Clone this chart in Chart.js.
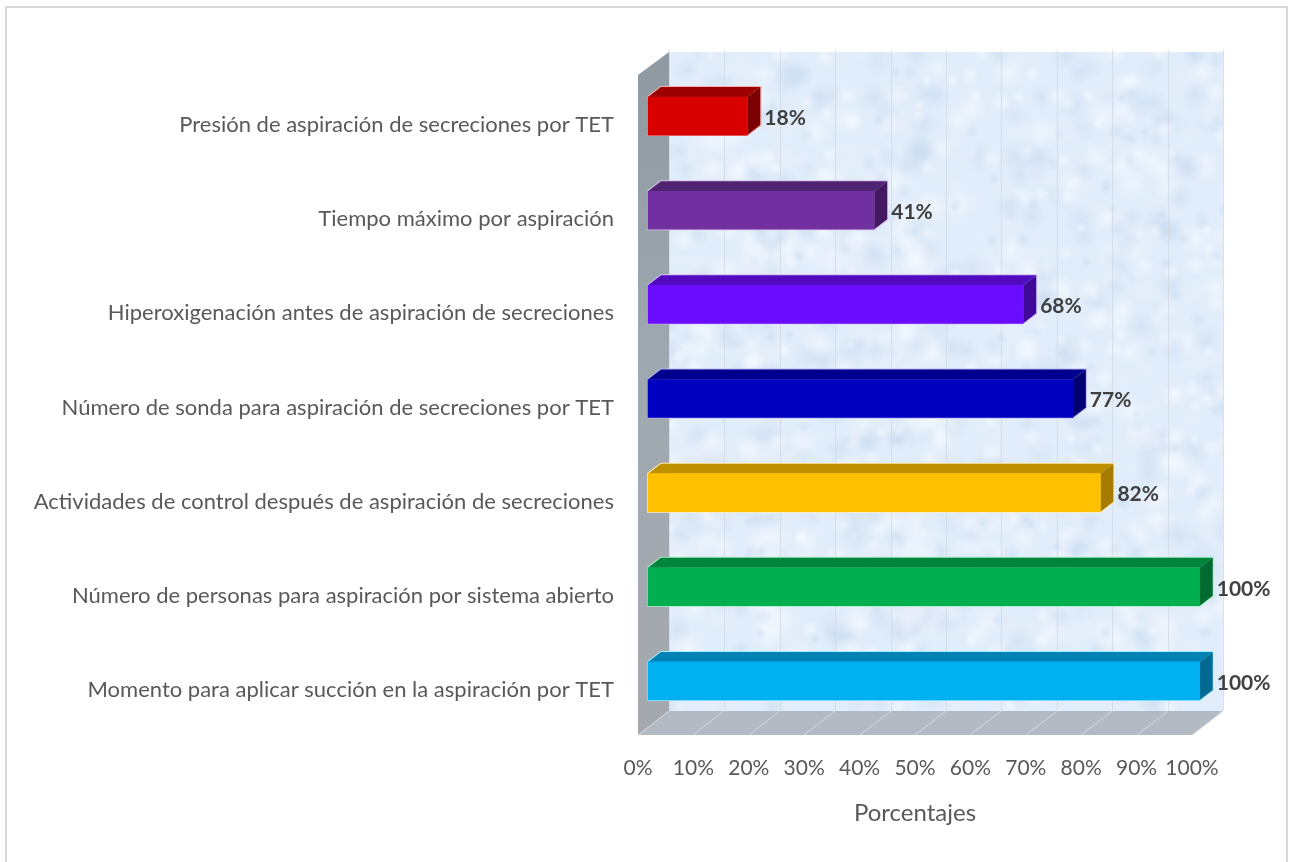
<!DOCTYPE html>
<html>
<head>
<meta charset="utf-8">
<title>Porcentajes</title>
<script src="https://cdn.jsdelivr.net/npm/chart.js@4/dist/chart.umd.min.js"></script>
<style>
  body { margin: 0; background: #fff; }
  canvas { display: block; }
</style>
</head>
<body>
<canvas id="mycanvas" width="1289" height="862"></canvas>
<script>
var categories = [
  "Presión de aspiración de secreciones por TET",
  "Tiempo máximo por aspiración",
  "Hiperoxigenación antes de aspiración de secreciones",
  "Número de sonda para aspiración de secreciones por TET",
  "Actividades de control después de aspiración de secreciones",
  "Número de personas para aspiración por sistema abierto",
  "Momento para aplicar succión en la aspiración por TET"
];
var values = [18, 41, 68, 77, 82, 100, 100];
var frontColors = ["#d90000", "#7030a0", "#6a0dff", "#0000c0", "#ffc000", "#00b050", "#00b0f0"];
var topColors = ["#9c0000", "#4f2272", "#4f0bbd", "#00008e", "#bf9000", "#00833b", "#0083b4"];
var sideColors = ["#7d0000", "#43195f", "#3f0898", "#000073", "#a67d00", "#006a30", "#006a92"];
var edgeColors = ["#f3b0b0", "#d9c2ea", "#d4bcff", "#b4b4f0", "#ffedb8", "#a8eec8", "#a8ecff"];

var FONT = "Lato";
var WALL_DX = 31, WALL_DY = 24, BAR_DX = 13, BAR_DY = 10;

function poly(ctx, pts, fill) {
  ctx.beginPath();
  ctx.moveTo(pts[0][0], pts[0][1]);
  for (var i = 1; i < pts.length; i++) ctx.lineTo(pts[i][0], pts[i][1]);
  ctx.closePath();
  ctx.fillStyle = fill;
  ctx.fill();
}

// frame, walls and floor of the 3d box
var boxPlugin = {
  id: "box",
  beforeDraw: function (chart) {
    var ctx = chart.ctx, sx = chart.scales.x;
    var left = sx.getPixelForValue(0), right = sx.getPixelForValue(100);
    var front = 735, back = front - WALL_DY, top = 52;
    ctx.save();
    ctx.fillStyle = "#fff";
    ctx.fillRect(0, 0, chart.width, chart.height);
    ctx.strokeStyle = "#d9d9d9";
    ctx.lineWidth = 2;
    ctx.strokeRect(6, 7, 1281, 860);

    // back wall, mottled
    var bl = left + WALL_DX, br = right + WALL_DX;
    ctx.fillStyle = "#e1edfa";
    ctx.fillRect(bl, top, br - bl, back - top);
    ctx.save();
    ctx.beginPath();
    ctx.rect(bl, top, br - bl, back - top);
    ctx.clip();
    for (var i = 0; i < 1400; i++) {
      var px = bl + (i * i * 37 + i * 137) % 557;
      var py = top + (i * i * 53 + i * 251) % 661;
      var r = 6 + (i * 17) % 13;
      var g = ctx.createRadialGradient(px, py, 0, px, py, r);
      var tint = i % 3 == 0 ? "250,252,255" : (i % 3 == 1 ? "200,219,241" : "234,238,251");
      g.addColorStop(0, "rgba(" + tint + ",0.5)");
      g.addColorStop(1, "rgba(" + tint + ",0)");
      ctx.fillStyle = g;
      ctx.fillRect(px - r, py - r, r * 2, r * 2);
    }
    ctx.restore();

    // left wall
    var lg = ctx.createLinearGradient(0, top, 0, front);
    lg.addColorStop(0, "#8f9aa3");
    lg.addColorStop(0.5, "#a0a9b0");
    lg.addColorStop(1, "#a5a9af");
    poly(ctx, [[left, top + WALL_DY - 1], [bl, top], [bl, back], [left, front]], lg);

    // floor
    poly(ctx, [[left, front], [bl, back], [br, back], [right, front]], "#b3bac3");

    // grid lines on wall and floor
    ctx.lineWidth = 1;
    sx.ticks.forEach(function (t) {
      var x = Math.round(sx.getPixelForValue(t.value));
      ctx.strokeStyle = "rgba(210,216,226,0.8)";
      ctx.beginPath();
      ctx.moveTo(x + WALL_DX + 0.5, top - 2);
      ctx.lineTo(x + WALL_DX + 0.5, back);
      ctx.stroke();
      ctx.strokeStyle = "#d3dae3";
      ctx.beginPath();
      ctx.moveTo(x + WALL_DX, back);
      ctx.lineTo(x, front);
      ctx.stroke();
    });
    ctx.restore();
  },
  // glow, top and side faces of each bar, behind the front drawn by the library
  beforeDatasetsDraw: function (chart) {
    var ctx = chart.ctx;
    chart.getDatasetMeta(0).data.forEach(function (bar, i) {
      var t = bar.y - bar.height / 2, b = bar.y + bar.height / 2;
      var outline = [[bar.base, t], [bar.base + BAR_DX, t - BAR_DY], [bar.x + BAR_DX, t - BAR_DY],
        [bar.x + BAR_DX, b - BAR_DY], [bar.x, b], [bar.base, b]];
      ctx.save();
      ctx.strokeStyle = edgeColors[i];
      ctx.lineWidth = 2;
      ctx.beginPath();
      outline.forEach(function (p, j) { if (j == 0) ctx.moveTo(p[0], p[1]); else ctx.lineTo(p[0], p[1]); });
      ctx.closePath();
      ctx.stroke();
      ctx.restore();
      poly(ctx, [[bar.base, t], [bar.base + BAR_DX, t - BAR_DY], [bar.x + BAR_DX, t - BAR_DY], [bar.x, t]], topColors[i]);
      poly(ctx, [[bar.x, t], [bar.x + BAR_DX, t - BAR_DY], [bar.x + BAR_DX, b - BAR_DY], [bar.x, b]], sideColors[i]);
    });
  },
  // value labels
  afterDatasetsDraw: function (chart) {
    var ctx = chart.ctx;
    ctx.save();
    ctx.font = "bold 21px " + FONT;
    ctx.fillStyle = "#404040";
    ctx.textAlign = "left";
    ctx.textBaseline = "middle";
    chart.getDatasetMeta(0).data.forEach(function (bar, i) {
      ctx.fillText(values[i] + "%", bar.x + 17, bar.y + 2);
    });
    ctx.restore();
  }
};

var ctx = document.getElementById("mycanvas");
var chart = new Chart(ctx, {
  type: "bar",
  data: {
    labels: categories,
    datasets: [{
      data: values,
      xAxisID: "xBars",
      backgroundColor: frontColors,
      borderWidth: 0,
      barThickness: 38,
      clip: false
    }]
  },
  plugins: [boxPlugin],
  options: {
    indexAxis: "y",
    responsive: false,
    animation: false,
    layout: { padding: { top: 69, right: 97, bottom: 0, left: 0 } },
    plugins: { legend: { display: false }, tooltip: { enabled: false } },
    scales: {
      x: {
        position: "bottom",
        min: 0,
        max: 100,
        grid: { display: false },
        border: { display: false },
        ticks: {
          stepSize: 10,
          autoSkip: false,
          padding: 20,
          color: "#595959",
          maxRotation: 0,
          font: { family: FONT, size: 21 },
          callback: function (v) { return v + "%"; }
        },
        title: {
          display: true,
          text: "Porcentajes",
          color: "#595959",
          font: { family: FONT, size: 24 },
          padding: { top: 0, bottom: 34 }
        },
        afterFit: function (scale) { scale.height = 134; }
      },
      // the bars start a little inside the box, so they have their own scale
      xBars: {
        display: false,
        min: -1.81,
        max: 98.6
      },
      y: {
        grid: { display: false },
        border: { display: false },
        ticks: {
          autoSkip: false,
          padding: 16,
          labelOffset: 9,
          color: "#595959",
          font: { family: FONT, size: 22 }
        },
        afterFit: function (scale) { scale.width = 638; }
      }
    }
  }
});
</script>
</body>
</html>
